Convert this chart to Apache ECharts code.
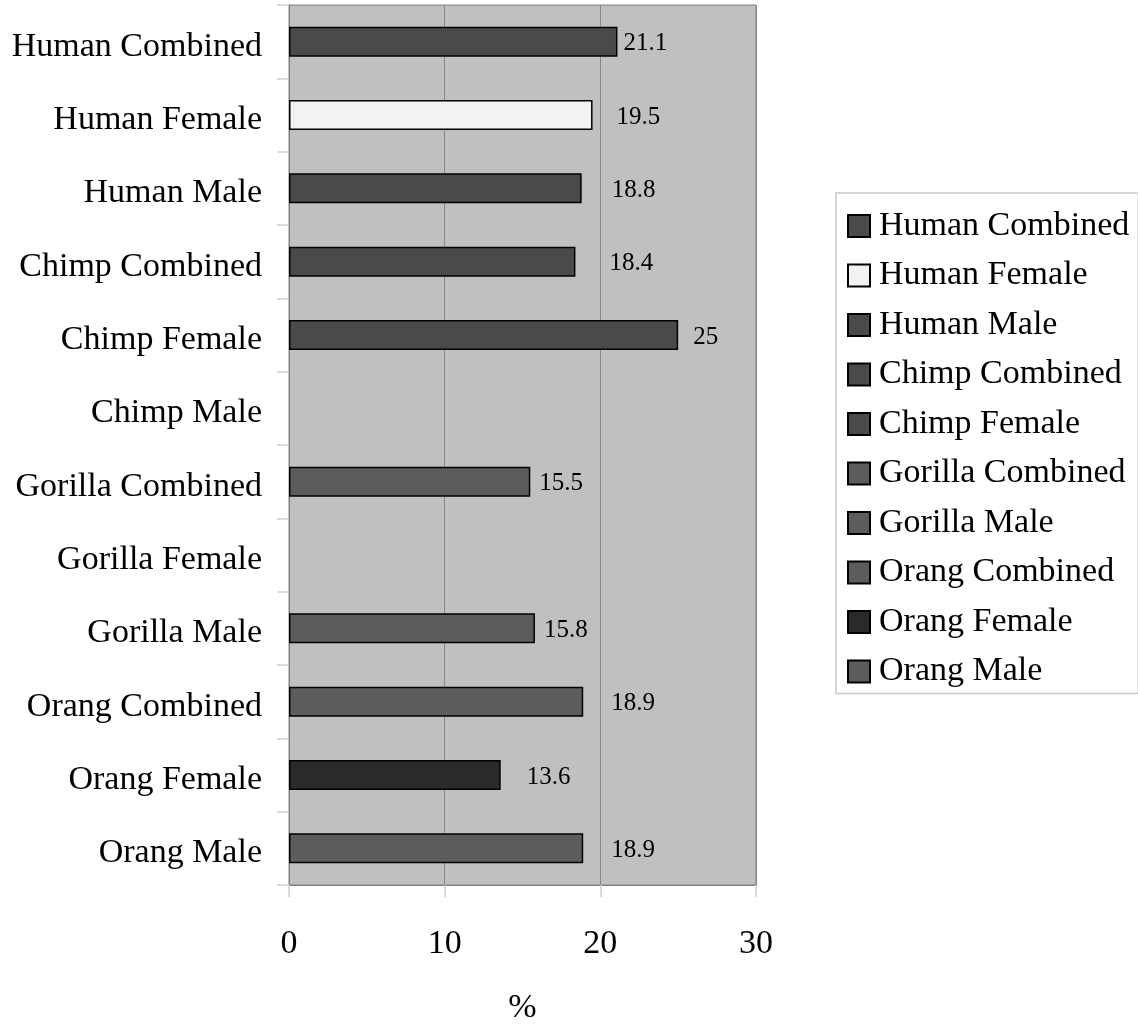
<!DOCTYPE html>
<html>
<head>
<meta charset="utf-8">
<title>Bar chart</title>
<script src="https://cdn.jsdelivr.net/npm/echarts@6/dist/echarts.min.js"></script>
<style>
  html, body { margin: 0; padding: 0; background: #fff; }
  #chart { width: 1138px; height: 1027px; }
</style>
</head>
<body>
<div id="chart"></div>
<script>
// Categories, top to bottom
const categories = [
  'Human Combined', 'Human Female', 'Human Male',
  'Chimp Combined', 'Chimp Female', 'Chimp Male',
  'Gorilla Combined', 'Gorilla Female', 'Gorilla Male',
  'Orang Combined', 'Orang Female', 'Orang Male'
];
// Percent values (null = no data for that group)
const values = [21.1, 19.5, 18.8, 18.4, 25, null, 15.5, null, 15.8, 18.9, 13.6, 18.9];
// Series shown in the legend, one per group that has data
const seriesNames = [
  'Human Combined', 'Human Female', 'Human Male', 'Chimp Combined', 'Chimp Female',
  'Gorilla Combined', 'Gorilla Male', 'Orang Combined', 'Orang Female', 'Orang Male'
];
const seriesColors = [
  '#4a4a4a', '#f2f2f2', '#4a4a4a', '#4a4a4a', '#4a4a4a',
  '#5c5c5c', '#5c5c5c', '#5c5c5c', '#2a2a2a', '#5c5c5c'
];
// Gap between bar end and its value label
const labelGaps = [6, 24, 30, 34, 15, 9, 9, 28, 26, 28];
const xTicks = { min: 0, max: 30, interval: 10 };

const FONT = '"Liberation Serif", "Times New Roman", serif';

const series = seriesNames.map((name, i) => {
  const idx = categories.indexOf(name);
  return {
    name: name,
    type: 'bar',
    barWidth: 30,
    barGap: '-100%',
    itemStyle: { color: seriesColors[i], borderColor: '#000', borderWidth: 1.5 },
    label: {
      show: true,
      position: 'right',
      distance: labelGaps[i],
      offset: [0, 2],
      color: '#000',
      fontFamily: FONT,
      fontSize: 25,
      formatter: p => p.value == null ? '' : String(p.value)
    },
    data: categories.map((c, k) => (k === idx ? values[k] : null))
  };
});

const chart = echarts.init(document.getElementById('chart'), null, { renderer: 'canvas' });
chart.setOption({
  animation: false,
  backgroundColor: '#fff',
  grid: {
    left: 289, top: 5, width: 467, height: 880,
    outerBoundsMode: 'none',
    containLabel: false,
    show: true, backgroundColor: '#c0c0c0', borderColor: '#808080', borderWidth: 1
  },
  legend: {
    orient: 'vertical',
    left: 836, top: 193,
    padding: [16, 9, 5, 11],
    itemGap: 15.5,
    itemWidth: 22, itemHeight: 22,
    icon: 'rect',
    backgroundColor: '#fff',
    borderColor: '#c8c8c8',
    borderWidth: 1.5,
    textStyle: { fontFamily: FONT, fontSize: 34, color: '#000', lineHeight: 34, padding: [0, 0, 0, 4] },
    data: seriesNames
  },
  xAxis: {
    type: 'value',
    min: xTicks.min, max: xTicks.max, interval: xTicks.interval,
    name: '%',
    nameLocation: 'middle',
    nameGap: 106,
    nameTextStyle: { fontFamily: FONT, fontSize: 34, color: '#000' },
    axisLine: { show: true, lineStyle: { color: '#808080', width: 1 } },
    axisTick: { show: true, length: 12, lineStyle: { color: '#d0d0d0', width: 1.5 } },
    axisLabel: { fontFamily: FONT, fontSize: 34, color: '#000', margin: 42 },
    splitLine: { show: true, lineStyle: { color: '#888', width: 1 } }
  },
  yAxis: {
    type: 'category',
    data: categories,
    inverse: true,
    axisLine: { show: true, lineStyle: { color: '#808080', width: 1 } },
    axisTick: { show: true, length: 12, alignWithLabel: false, lineStyle: { color: '#d0d0d0', width: 1.5 } },
    axisLabel: {
      margin: 27,
      formatter: v => '{c|' + v + '}',
      rich: {
        c: { fontFamily: FONT, fontSize: 34, color: '#000', padding: [10, 0, 0, 0] }
      }
    },
    splitLine: { show: false }
  },
  series: series
});
</script>
</body>
</html>
